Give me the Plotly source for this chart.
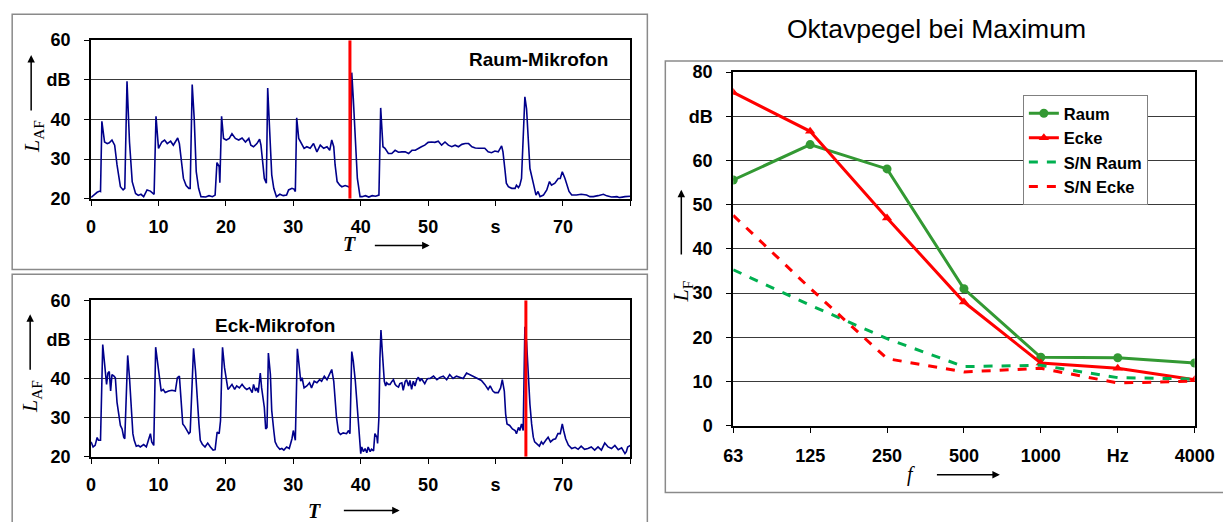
import plotly.graph_objects as go

# ---------------- data ----------------
# Raum-Mikrofon time series (T in s, L_AF in dB)
raum_T = [0, 0.5, 0.9, 1.3, 1.4, 1.6, 2.0, 2.4, 2.7, 3.1, 3.5, 3.85, 4.1, 4.35, 4.75, 5.0, 5.33, 5.7, 6.1, 6.6,
          7.0, 7.4, 7.8, 8.3, 8.8, 9.2, 9.35, 9.63, 10.0, 10.5, 10.9, 11.3, 11.8, 12.2, 12.5, 12.85, 13.1, 13.5,
          13.7, 14.1, 14.5, 14.7, 15.0, 15.3, 15.6, 15.95, 16.3, 17.0, 17.5, 18.0, 18.4, 18.67, 19.0, 19.1, 19.36,
          19.65, 20.05, 20.5, 20.9, 21.4, 21.9, 22.4, 22.9, 23.4, 23.7, 24.1, 24.6, 25.0, 25.2, 25.5, 25.7, 26.0,
          26.2, 26.5, 26.8, 27.1, 27.5, 28.0, 28.5, 29.0, 29.3, 29.8, 30.1, 30.3, 30.5, 30.8, 31.3, 31.6, 32.0,
          32.5, 33.0, 33.5, 34.0, 34.5, 35.0, 35.4, 35.7, 36.0, 36.2, 36.5, 36.9, 37.2, 37.7, 38.2, 38.45, 38.67,
          38.9, 39.2, 39.5, 39.9, 40.2, 40.7, 41.2, 41.7, 42.2, 42.7, 42.96, 43.3, 43.6, 44.1, 44.6, 45.1, 45.6,
          46.1, 46.6, 47.1, 47.6, 48.1, 48.5, 49.0, 49.5, 50.0, 50.5, 51.0, 51.5, 52.0, 52.5, 53.0, 53.5, 54.0,
          54.5, 55.0, 55.5, 56.0, 56.5, 57.0, 57.5, 58.0, 58.4, 58.9, 59.4, 59.9, 60.4, 60.9, 61.1, 61.4, 61.6,
          61.9, 62.4, 62.9, 63.1, 63.4, 63.6, 63.85, 64.0, 64.35, 64.6, 64.85, 65.1, 65.6, 66.0, 66.3, 66.6, 67.1,
          67.6, 68.0, 68.3, 68.8, 69.3, 69.6, 69.9, 70.3, 70.6, 70.9, 71.3, 72.0, 72.7, 73.5, 74.0, 74.5, 75.2,
          76.0, 76.5, 77.2, 78.0, 78.4, 79.2, 79.8, 80.0]
raum_L = [20.3, 21.1, 21.6, 21.9, 21.8, 39.5, 34.3, 33.9, 34.1, 34.8, 33.5, 28.5, 25.1, 23.0, 22.2, 22.6, 49.6, 34.3, 24.3, 21.3,
          20.8, 21.1, 20.5, 22.2, 21.9, 21.3, 21.1, 40.8, 32.7, 34.3, 34.8, 33.9, 34.5, 33.5, 34.3, 35.3, 33.9, 28.5,
          25.1, 23.3, 22.6, 22.6, 48.8, 40.2, 26.8, 22.6, 20.5, 20.4, 20.75, 20.5, 20.9, 29.1, 28.1, 24.0, 40.8,
          35.2, 34.8, 35.2, 36.4, 35.2, 34.8, 35.3, 34.3, 35.2, 33.5, 33.1, 33.9, 35.0, 33.5, 28.5, 25.1, 23.9,
          47.9, 36.9, 26.0, 22.6, 20.5, 21.1, 20.75, 20.9, 22.2, 22.6, 22.4, 21.8, 40.4, 35.2, 33.5, 32.7, 33.1,
          32.7, 33.9, 31.8, 33.5, 32.7, 33.1, 32.2, 34.8, 33.1, 28.5, 24.3, 23.4, 23.0, 23.3, 23.0, 22.6, 51.8,
          45.2, 34.3, 25.1, 20.5, 20.5, 20.75, 20.4, 20.75, 20.6, 20.9, 42.9, 33.1, 32.7, 31.4, 31.4, 32.2, 31.7,
          31.8, 31.8, 31.4, 32.2, 32.2, 32.7, 33.1, 33.5, 34.2, 34.3, 34.2, 34.5, 33.5, 34.3, 33.5, 33.1, 33.5,
          33.1, 33.7, 33.9, 33.9, 33.1, 32.8, 32.7, 32.8, 32.7, 31.8, 31.6, 32.0, 31.8, 33.3, 31.8, 27.2, 23.9,
          23.0, 22.6, 22.6, 23.4, 22.8, 23.4, 25.1, 32.7, 45.7, 42.7, 35.2, 27.6, 23.9, 20.9, 21.8, 20.5, 20.9,
          22.2, 24.3, 23.4, 23.9, 25.1, 25.1, 26.8, 25.1, 23.4, 21.8, 20.9, 20.9, 21.1, 20.9, 20.5, 20.5, 20.75,
          21.1, 20.7, 20.4, 20.5, 20.25, 20.5, 20.5, 20.6]

# Eck-Mikrofon time series
eck_T = [0, 0.3, 0.6, 0.9, 1.1, 1.4, 1.73, 2.0, 2.3, 2.5, 2.7, 2.9, 3.1, 3.4, 3.6, 3.85, 4.1, 4.35, 4.6, 4.84, 5.0,
         5.43, 5.7, 6.0, 6.2, 6.4, 6.7, 7.0, 7.3, 7.8, 8.2, 8.5, 8.8, 9.0, 9.3, 9.58, 9.9, 10.1, 10.4, 10.7, 11.0,
         11.5, 12.0, 12.5, 12.8, 13.1, 13.3, 13.6, 13.9, 14.2, 14.5, 14.7, 15.2, 15.5, 15.7, 16.0, 16.2, 16.5, 16.9,
         17.3, 17.7, 18.1, 18.4, 18.7, 19.0, 19.2, 19.36, 19.5, 19.8, 20.05, 20.3, 20.5, 20.9, 21.3, 21.6, 22.0,
         22.4, 22.8, 23.1, 23.5, 23.9, 24.1, 24.4, 24.6, 24.8, 25.1, 25.3, 25.7, 25.9, 26.1, 26.3, 26.6, 26.8, 27.1,
         27.3, 27.6, 28.0, 28.3, 28.6, 29.0, 29.4, 29.8, 30.0, 30.3, 30.6, 30.85, 31.1, 31.3, 31.6, 32.0, 32.4,
         32.7, 33.1, 33.5, 33.9, 34.2, 34.6, 35.0, 35.4, 35.7, 36.0, 36.2, 36.4, 36.7, 37.0, 37.4, 37.9, 38.2, 38.4,
         38.67, 38.9, 39.2, 39.5, 39.8, 40.0, 40.15, 40.4, 40.65, 40.9, 41.1, 41.4, 41.6, 41.9, 42.1, 42.4, 42.5,
         42.7, 42.85, 43.0, 43.2, 43.5, 43.7, 43.85, 44.1, 44.35, 44.6, 44.85, 45.1, 45.3, 45.6, 45.8, 46.1, 46.3,
         46.6, 46.8, 47.1, 47.3, 47.55, 47.8, 48.05, 48.3, 48.55, 48.8, 49.0, 49.3, 49.5, 49.8, 50.0, 50.3, 50.8,
         51.3, 51.75, 52.25, 52.75, 53.2, 53.7, 54.2, 54.7, 55.2, 55.7, 56.2, 56.7, 57.2, 57.7, 57.9, 58.4, 58.9,
         59.2, 59.6, 59.9, 60.4, 60.75, 61.0, 61.3, 61.5, 61.7, 62.1, 62.5, 62.9, 63.1, 63.4, 63.6, 63.85, 64.1,
         64.35, 64.6, 64.85, 65.1, 65.35, 65.6, 65.8, 66.1, 66.5, 66.8, 67.05, 67.45, 67.8, 68.15, 68.55, 68.9,
         69.25, 69.6, 69.9, 70.1, 70.4, 70.8, 71.3, 71.8, 72.25, 72.7, 73.2, 73.7, 74.2, 74.7, 75.2, 75.7, 76.2,
         76.7, 77.2, 77.7, 78.2, 78.7, 79.2, 79.4, 79.6, 80.0]
eck_L = [23.8, 22.5, 22.9, 24.9, 24.2, 24.2, 48.7, 43.5, 38.5, 41.4, 41.8, 36.8, 41.0, 40.6, 40.2, 33.9, 30.9, 28.0, 27.1, 25.0, 24.6,
         45.9, 40.2, 29.2, 25.9, 24.2, 22.7, 22.9, 22.5, 23.1, 22.5, 24.2, 25.9, 23.8, 22.9, 48.0, 43.5, 39.5, 36.8, 37.2, 36.4,
         36.8, 37.0, 36.8, 40.2, 40.6, 35.1, 28.4, 27.7, 26.7, 25.9, 26.3, 47.7, 41.8, 35.1, 28.4, 24.2, 23.2, 22.5,
         23.5, 22.5, 21.7, 21.8, 26.3, 25.9, 29.2, 40.2, 48.0, 42.7, 39.3, 37.2, 37.6, 38.5, 37.2, 38.1, 37.6,
         38.5, 37.6, 37.2, 37.6, 36.4, 38.5, 36.8, 37.6, 36.4, 41.4, 37.6, 32.6, 27.1, 27.5, 46.5, 41.0, 31.8, 26.7,
         23.8, 22.7, 21.9, 22.1, 21.7, 22.5, 22.1, 24.6, 26.7, 24.2, 47.6, 43.5, 39.3, 40.2, 37.6, 38.1, 38.9,
         37.6, 39.3, 38.9, 39.7, 39.3, 40.6, 39.7, 41.4, 42.3, 39.3, 35.1, 30.1, 26.3, 25.7, 26.1, 25.9, 26.7, 25.9,
         46.9, 44.4, 39.3, 32.6, 25.0, 20.8, 22.5, 21.3, 22.1, 21.0, 22.5, 21.3, 21.9, 21.5, 25.9, 25.0, 23.4,
         30.1, 45.2, 52.4, 46.9, 39.3, 38.1, 38.9, 38.5, 38.5, 39.2, 39.7, 38.5, 38.1, 37.8, 38.7, 38.9, 37.0,
         39.3, 39.7, 38.1, 39.5, 37.2, 39.3, 38.1, 39.7, 40.3, 39.3, 40.0, 39.3, 38.7, 39.7, 40.0, 40.0, 40.6,
         39.7, 40.3, 40.6, 39.7, 41.0, 40.0, 40.6, 40.2, 40.0, 41.4, 41.0, 40.6, 40.0, 39.7, 39.5, 38.5, 37.2,
         38.1, 36.8, 36.4, 36.4, 37.6, 39.7, 36.8, 30.9, 28.4, 28.0, 27.1, 26.7, 25.9, 27.5, 26.7, 28.4, 26.7,
         53.2, 49.4, 41.0, 33.4, 28.4, 25.0, 23.8, 23.4, 22.7, 23.8, 23.2, 24.2, 25.0, 23.8, 24.4, 24.6,
         25.9, 25.9, 28.4, 26.7, 24.6, 23.0, 22.1, 22.4, 21.9, 22.7, 21.9, 22.1, 22.5, 21.7, 22.5, 21.7, 23.5,
         22.5, 22.1, 22.9, 21.8, 22.3, 20.8, 21.3, 22.5, 22.9]

raum_marker_T = 38.4
eck_marker_T = 64.5
marker_L = [20, 60]

time_ticks = [0, 10, 20, 30, 40, 50, 60, 70, 80]
time_ticktext = ["0", "10", "20", "30", "40", "50", "s", "70", ""]
level_ticks = [20, 30, 40, 50, 60]
level_ticktext = ["20", "30", "40", "dB", "60"]

# Octave band levels at maximum
octave_labels = ["63", "125", "250", "500", "1000", "Hz", "4000"]
oct_raum = [55.6, 63.6, 58.1, 31.0, 15.5, 15.4, 14.2]
oct_ecke = [75.4, 66.6, 47.0, 28.0, 14.2, 13.0, 10.4]
oct_sn_raum = [35.3, 27.3, 19.7, 13.4, 13.7, 10.9, 10.6]
oct_sn_ecke = [47.6, 31.1, 15.2, 12.2, 13.0, 9.7, 10.1]
oct_yticks = [0, 10, 20, 30, 40, 50, 60, 70, 80]
oct_yticktext = ["0", "10", "20", "30", "40", "50", "60", "dB", "80"]

# ---------------- figure ----------------
# layout helpers: positions given in target-picture pixels
OFF = 8            # page body margin
SX, SY = 0.977, 0.965
W, H = 1236, 522
def px(x):
    return (x / SX - OFF) / W
def py(y):
    return 1 - (y / SY - OFF) / H

SANS = "Liberation Sans"
SERIF = "Liberation Serif"
tickfont = dict(family=SANS, size=18, color="black", weight="bold")

fig = go.Figure()

navy = "#00008B"
fig.add_trace(go.Scatter(x=raum_T, y=raum_L, mode="lines", line=dict(color=navy, width=1.6),
                         xaxis="x", yaxis="y", showlegend=False))
fig.add_trace(go.Scatter(x=[raum_marker_T, raum_marker_T], y=marker_L, mode="lines",
                         line=dict(color="#FF0000", width=3), xaxis="x", yaxis="y", showlegend=False))
fig.add_trace(go.Scatter(x=eck_T, y=eck_L, mode="lines", line=dict(color=navy, width=1.6),
                         xaxis="x2", yaxis="y2", showlegend=False))
fig.add_trace(go.Scatter(x=[eck_marker_T, eck_marker_T], y=marker_L, mode="lines",
                         line=dict(color="#FF0000", width=3), xaxis="x2", yaxis="y2", showlegend=False))

xi = list(range(len(octave_labels)))
fig.add_trace(go.Scatter(x=xi, y=oct_raum, name="Raum", mode="lines+markers",
                         line=dict(color="#339933", width=3), marker=dict(symbol="circle", size=9, color="#339933"),
                         xaxis="x3", yaxis="y3"))
fig.add_trace(go.Scatter(x=xi, y=oct_ecke, name="Ecke", mode="lines+markers",
                         line=dict(color="#FF0000", width=3), marker=dict(symbol="triangle-up", size=9, color="#FF0000"),
                         xaxis="x3", yaxis="y3"))
fig.add_trace(go.Scatter(x=xi, y=oct_sn_raum, name="S/N Raum", mode="lines",
                         line=dict(color="#00B050", width=3, dash="dash"), xaxis="x3", yaxis="y3"))
fig.add_trace(go.Scatter(x=xi, y=oct_sn_ecke, name="S/N Ecke", mode="lines",
                         line=dict(color="#FF0000", width=3, dash="dash"), xaxis="x3", yaxis="y3"))

def time_xaxis(anchor):
    return dict(domain=[px(89), px(629)], anchor=anchor, range=[0, 80], tickvals=time_ticks,
                ticktext=time_ticktext, ticks="outside", ticklen=5, tickwidth=1, tickcolor="black",
                showline=True, linecolor="black", linewidth=2, mirror=True, showgrid=False,
                zeroline=False, tickfont=tickfont, ticklabelstandoff=6)

def level_yaxis(anchor, dom):
    return dict(domain=dom, anchor=anchor, range=[20, 60], tickvals=level_ticks, ticktext=level_ticktext,
                ticks="outside", ticklen=5, tickwidth=1, tickcolor="black", showline=True, linecolor="black",
                linewidth=2, mirror=True, showgrid=True, gridcolor="#3a3a3a", gridwidth=1, zeroline=False,
                tickfont=tickfont, ticklabelstandoff=10)

fig.update_layout(
    width=W, height=H, margin=dict(l=0, r=0, t=0, b=0),
    paper_bgcolor="white", plot_bgcolor="white",
    xaxis=time_xaxis("y"),
    yaxis=level_yaxis("x", [py(197), py(38)]),
    xaxis2=time_xaxis("y2"),
    yaxis2=level_yaxis("x2", [py(456), py(299)]),
    xaxis3=dict(domain=[px(732), px(1194)], anchor="y3", range=[0, 6], tickvals=xi, ticktext=octave_labels,
                ticks="outside", ticklen=5, tickcolor="black", showline=True, linecolor="black", linewidth=2,
                mirror=True, showgrid=False, zeroline=False, tickfont=tickfont, ticklabelstandoff=8),
    yaxis3=dict(domain=[py(425), py(70)], anchor="x3", range=[0, 80], tickvals=oct_yticks,
                ticktext=oct_yticktext, ticks="outside", ticklen=5, tickcolor="black", showline=True,
                linecolor="black", linewidth=2, mirror=True, showgrid=True, gridcolor="#3a3a3a", gridwidth=1,
                zeroline=False, tickfont=tickfont, ticklabelstandoff=10),
    legend=dict(x=px(1022), y=py(93), xanchor="left", yanchor="top", bgcolor="white",
                bordercolor="#808080", borderwidth=1, font=dict(family=SANS, size=16.5, color="black", weight="bold"),
                tracegroupgap=0, itemwidth=30),
    showlegend=True,
)

# panel frames
frame = dict(color="#8a8a8a", width=1.5)
fig.add_shape(type="rect", xref="paper", yref="paper", x0=px(10), x1=px(646), y0=py(268), y1=py(12), line=frame)
fig.add_shape(type="rect", xref="paper", yref="paper", x0=px(10), x1=px(646), y0=py(560), y1=py(273), line=frame)
fig.add_shape(type="rect", xref="paper", yref="paper", x0=px(664), x1=px(1260), y0=py(492), y1=py(59), line=frame)

ann = []
def text(x, y, s, size, family=SANS, weight="bold", angle=0):
    ann.append(dict(x=px(x), y=py(y), xref="paper", yref="paper", text=s, showarrow=False,
                    textangle=angle, xanchor="center", yanchor="middle",
                    font=dict(family=family, size=size, color="black", weight=weight)))

def arrow(x0, y0, x1, y1):
    ann.append(dict(x=px(x1), y=py(y1), xref="paper", yref="paper", ax=(x0 - x1) / SX, ay=(y0 - y1) / SY,
                    axref="pixel", ayref="pixel", text="", showarrow=True, arrowhead=2, arrowsize=1,
                    arrowwidth=1.5, arrowcolor="black"))

text(537, 57, "Raum-Mikrofon", 19)
text(273, 324, "Eck-Mikrofon", 19)
text(936, 27, "Oktavpegel bei Maximum", 26.5, weight="normal")

text(31, 135, "<i>L</i><sub>AF</sub>", 22, family=SERIF, weight="normal", angle=-90)
text(29, 396, "<i>L</i><sub>AF</sub>", 22, family=SERIF, weight="normal", angle=-90)
text(681, 290, "<i>L</i><sub>F</sub>", 22, family=SERIF, weight="normal", angle=-90)
text(348, 243, "<i>T</i>", 20, family=SERIF, weight="bold")
text(313, 510, "<i>T</i>", 20, family=SERIF, weight="bold")
text(910, 474, "<i>f</i>", 20, family=SERIF, weight="normal")

arrow(29, 108, 29, 53)
arrow(28, 368, 28, 313)
arrow(680, 252, 680, 188)
arrow(373, 244, 428, 244)
arrow(342, 510, 398, 510)
arrow(936, 474, 999, 474)

fig.update_layout(annotations=ann)

fig.write_html("out.html")
